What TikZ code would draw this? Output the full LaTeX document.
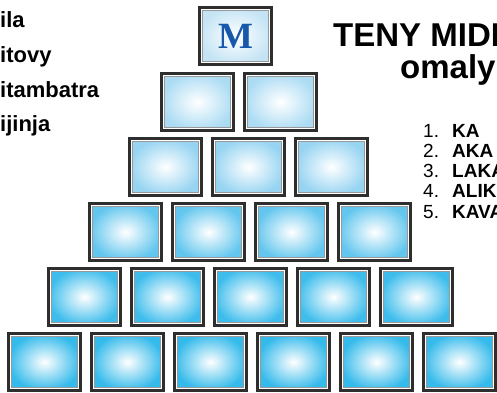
\documentclass[tikz,border=0pt]{standalone}
\usepackage{fontspec}
\setmainfont{Liberation Sans}
\newfontfamily\tileserif{Liberation Serif}
\usetikzlibrary{positioning,calc}
\definecolor{tileM}{RGB}{196,228,245}
\definecolor{tileB}{RGB}{172,220,244}
\definecolor{tileC}{RGB}{150,212,242}
\definecolor{tileD}{RGB}{98,198,238}
\definecolor{tileE}{RGB}{62,189,236}
\definecolor{tileF}{RGB}{52,186,235}
\definecolor{letterblue}{RGB}{24,88,170}
\tikzset{
tilebox/.style={rectangle,draw=black!82,line width=2.6pt,fill=white,
  minimum width=72.5pt,minimum height=57.5pt,inner sep=0pt,
  path picture={\shadedraw[inner color=white,outer color=#1,draw=black!40,line width=1pt]
    ([shift={(3.6pt,3.6pt)}]path picture bounding box.south west) rectangle
    ([shift={(-3.6pt,-3.6pt)}]path picture bounding box.north east);}},
sidetext/.style={anchor=base west,inner sep=0pt,font=\bfseries\fontsize{22}{22}\selectfont},
headtext/.style={anchor=base west,inner sep=0pt,font=\bfseries\fontsize{33}{33}\selectfont},
listtext/.style={anchor=base west,inner sep=0pt,font=\fontsize{19}{19}\selectfont}
}
\begin{document}
\begin{tikzpicture}[x=1pt,y=1pt]
\useasboundingbox (0,0) rectangle (497,392);
% pyramid
\node[tilebox=tileM,text=letterblue,font=\tileserif\bfseries\fontsize{37}{37}\selectfont] (top) at (235.5,356) {M};
\foreach \row/\num/\xa/\ya/\col in {2/2/197.5/290/tileB,3/3/165.5/225/tileC,4/4/125.5/160/tileD,5/5/84.5/95/tileE,6/6/44.5/30/tileF}
  \foreach \k in {1,...,\num}
    \node[tilebox=\col] (t\row\k) at ({\xa+83*(\k-1)},\ya) {};
% words on the left
\node[sidetext] (ila) at (0,364) {ila};
\node[sidetext] (itovy) at (0,330) {itovy};
\node[sidetext] (itambatra) at (0,295) {itambatra};
\node[sidetext] (ijinja) at (0,261) {ijinja};
% heading
\node[headtext] (teny) at (333,346) {TENY MIDI};
\node[headtext] (omaly) at (400,314) {omaly};
% list
\node[listtext] (l1) at (423,255) {\makebox[29pt][l]{1.}\textbf{KA}};
\node[listtext] (l2) at (423,235) {\makebox[29pt][l]{2.}\textbf{AKA}};
\node[listtext] (l3) at (423,215) {\makebox[29pt][l]{3.}\textbf{LAKA}};
\node[listtext] (l4) at (423,195) {\makebox[29pt][l]{4.}\textbf{ALIK}};
\node[listtext] (l5) at (423,174) {\makebox[29pt][l]{5.}\textbf{KAVA}};
\end{tikzpicture}
\end{document}
